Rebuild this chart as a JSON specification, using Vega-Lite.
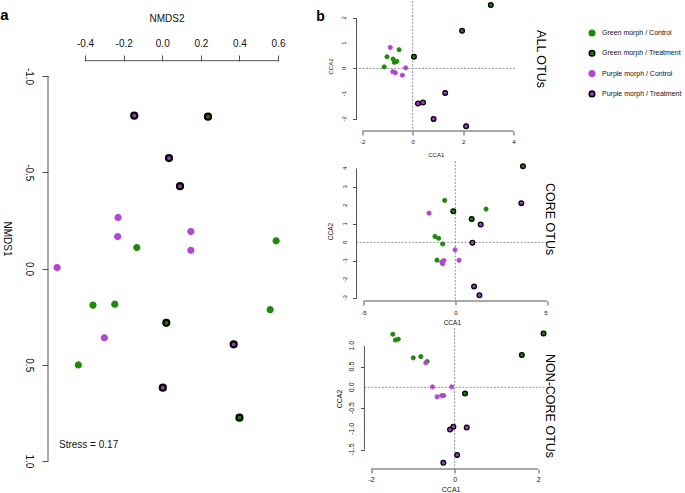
{
"$schema": "https://vega.github.io/schema/vega-lite/v6.json",
"padding": 0,
"background": "white",
"config": {
  "view": {"stroke": null},
  "font": "Liberation Sans",
  "axis": {"grid": false, "domain": false, "labelOverlap": false, "labelBound": false, "tickColor": "#555", "tickWidth": 1, "labelColor": "#111", "titleColor": "#111", "titleFontWeight": "normal", "labelFont": "Liberation Sans", "titleFont": "Liberation Sans"},
  "legend": {"orient": "none", "legendX": 540, "legendY": 28, "labelFontSize": 7, "labelFont": "Liberation Sans", "labelColor": "#111", "symbolSize": 30, "symbolStrokeWidth": 1.6, "rowPadding": 8.3, "labelOffset": 6, "symbolType": "circle", "labelLimit": 200}
},
"datasets": {
  "nmds": [
    {"x": 0.590, "y": -0.144, "g": "Green morph / Control"},
    {"x": -0.132, "y": -0.109, "g": "Green morph / Control"},
    {"x": -0.359, "y": 0.190, "g": "Green morph / Control"},
    {"x": -0.246, "y": 0.185, "g": "Green morph / Control"},
    {"x": 0.559, "y": 0.214, "g": "Green morph / Control"},
    {"x": -0.435, "y": 0.501, "g": "Green morph / Control"},
    {"x": 0.237, "y": -0.789, "g": "Green morph / Treatment"},
    {"x": 0.021, "y": 0.282, "g": "Green morph / Treatment"},
    {"x": 0.400, "y": 0.775, "g": "Green morph / Treatment"},
    {"x": -0.229, "y": -0.265, "g": "Purple morph / Control"},
    {"x": -0.231, "y": -0.166, "g": "Purple morph / Control"},
    {"x": 0.148, "y": -0.192, "g": "Purple morph / Control"},
    {"x": 0.148, "y": -0.095, "g": "Purple morph / Control"},
    {"x": -0.545, "y": -0.005, "g": "Purple morph / Control"},
    {"x": -0.300, "y": 0.360, "g": "Purple morph / Control"},
    {"x": -0.145, "y": -0.794, "g": "Purple morph / Treatment"},
    {"x": 0.035, "y": -0.574, "g": "Purple morph / Treatment"},
    {"x": 0.092, "y": -0.428, "g": "Purple morph / Treatment"},
    {"x": 0.370, "y": 0.394, "g": "Purple morph / Treatment"},
    {"x": 0.003, "y": 0.619, "g": "Purple morph / Treatment"}
  ],
  "all": [
    {"x": -0.54, "y": 0.74, "g": "Green morph / Control"},
    {"x": -1.02, "y": 0.46, "g": "Green morph / Control"},
    {"x": -0.78, "y": 0.37, "g": "Green morph / Control"},
    {"x": -0.63, "y": 0.28, "g": "Green morph / Control"},
    {"x": -0.73, "y": 0.24, "g": "Green morph / Control"},
    {"x": -1.13, "y": 0.06, "g": "Green morph / Control"},
    {"x": 3.10, "y": 2.51, "g": "Green morph / Treatment"},
    {"x": 1.96, "y": 1.49, "g": "Green morph / Treatment"},
    {"x": 0.05, "y": 0.46, "g": "Green morph / Treatment"},
    {"x": -0.89, "y": 0.83, "g": "Purple morph / Control"},
    {"x": -0.28, "y": 0.02, "g": "Purple morph / Control"},
    {"x": -0.79, "y": -0.13, "g": "Purple morph / Control"},
    {"x": -0.69, "y": -0.17, "g": "Purple morph / Control"},
    {"x": -0.41, "y": -0.27, "g": "Purple morph / Control"},
    {"x": 1.29, "y": -0.97, "g": "Purple morph / Treatment"},
    {"x": 0.41, "y": -1.35, "g": "Purple morph / Treatment"},
    {"x": 0.21, "y": -1.39, "g": "Purple morph / Treatment"},
    {"x": 0.83, "y": -2.0, "g": "Purple morph / Treatment"},
    {"x": 2.12, "y": -2.29, "g": "Purple morph / Treatment"}
  ],
  "core": [
    {"x": -0.58, "y": 2.27, "g": "Green morph / Control"},
    {"x": 1.67, "y": 1.80, "g": "Green morph / Control"},
    {"x": -1.11, "y": 0.32, "g": "Green morph / Control"},
    {"x": -0.91, "y": 0.22, "g": "Green morph / Control"},
    {"x": -0.69, "y": -0.09, "g": "Green morph / Control"},
    {"x": -1.0, "y": -0.96, "g": "Green morph / Control"},
    {"x": 3.68, "y": 4.12, "g": "Green morph / Treatment"},
    {"x": -0.11, "y": 1.68, "g": "Green morph / Treatment"},
    {"x": 0.89, "y": 1.26, "g": "Green morph / Treatment"},
    {"x": -1.43, "y": 1.58, "g": "Purple morph / Control"},
    {"x": -0.02, "y": -0.40, "g": "Purple morph / Control"},
    {"x": 0.20, "y": -0.97, "g": "Purple morph / Control"},
    {"x": -0.62, "y": -0.98, "g": "Purple morph / Control"},
    {"x": -0.74, "y": -1.06, "g": "Purple morph / Control"},
    {"x": -0.69, "y": -1.16, "g": "Purple morph / Control"},
    {"x": 3.59, "y": 2.12, "g": "Purple morph / Treatment"},
    {"x": 1.38, "y": 0.97, "g": "Purple morph / Treatment"},
    {"x": 0.93, "y": -0.02, "g": "Purple morph / Treatment"},
    {"x": 1.02, "y": -2.38, "g": "Purple morph / Treatment"},
    {"x": 1.31, "y": -2.86, "g": "Purple morph / Treatment"}
  ],
  "noncore": [
    {"x": -1.48, "y": 1.28, "g": "Green morph / Control"},
    {"x": -1.42, "y": 1.14, "g": "Green morph / Control"},
    {"x": -1.35, "y": 1.16, "g": "Green morph / Control"},
    {"x": -0.99, "y": 0.71, "g": "Green morph / Control"},
    {"x": -0.81, "y": 0.74, "g": "Green morph / Control"},
    {"x": -0.66, "y": 0.62, "g": "Green morph / Control"},
    {"x": 2.13, "y": 1.30, "g": "Green morph / Treatment"},
    {"x": 1.61, "y": 0.78, "g": "Green morph / Treatment"},
    {"x": 0.25, "y": -0.15, "g": "Green morph / Treatment"},
    {"x": -0.69, "y": 0.59, "g": "Purple morph / Control"},
    {"x": -0.53, "y": 0.01, "g": "Purple morph / Control"},
    {"x": -0.07, "y": 0.01, "g": "Purple morph / Control"},
    {"x": -0.42, "y": -0.23, "g": "Purple morph / Control"},
    {"x": -0.31, "y": -0.20, "g": "Purple morph / Control"},
    {"x": -0.26, "y": -0.20, "g": "Purple morph / Control"},
    {"x": 0.29, "y": -0.97, "g": "Purple morph / Treatment"},
    {"x": -0.03, "y": -0.95, "g": "Purple morph / Treatment"},
    {"x": -0.11, "y": -1.02, "g": "Purple morph / Treatment"},
    {"x": 0.06, "y": -1.63, "g": "Purple morph / Treatment"},
    {"x": -0.27, "y": -1.82, "g": "Purple morph / Treatment"}
  ],
  "ticksAll": [{"v": -2, "t": "-2"}, {"v": -1, "t": "-1"}, {"v": 0, "t": "0"}, {"v": 1, "t": "1"}, {"v": 2, "t": "2"}],
  "ticksCore": [{"v": -3, "t": "-3"}, {"v": -2, "t": "-2"}, {"v": -1, "t": "-1"}, {"v": 0, "t": "0"}, {"v": 1, "t": "1"}, {"v": 2, "t": "2"}, {"v": 3, "t": "3"}, {"v": 4, "t": "4"}],
  "ticksNon": [{"v": -1.5, "t": "-1.5"}, {"v": -1, "t": "-1.0"}, {"v": -0.5, "t": "-0.5"}, {"v": 0, "t": "0.0"}, {"v": 0.5, "t": "0.5"}, {"v": 1, "t": "1.0"}]
},
"hconcat": [
  {
    "width": 237, "height": 475,
    "layer": [
      {"data": {"values": [{}]}, "mark": {"type": "rule", "color": "#555", "strokeWidth": 1}, "encoding": {"x": {"datum": -0.4}, "x2": {"datum": 0.6}, "y": {"datum": -1.08}}},
      {"data": {"values": [{}]}, "mark": {"type": "rule", "color": "#555", "strokeWidth": 1}, "encoding": {"y": {"datum": -1}, "y2": {"datum": 1}, "x": {"datum": -0.592}}},
      {"data": {"name": "nmds"}, "transform": [{"filter": "indexof(datum.g, 'Control') >= 0"}],
       "mark": {"type": "circle", "size": 36, "strokeWidth": 1.2, "opacity": 1},
       "encoding": {
         "x": {"field": "x", "type": "quantitative", "scale": {"domain": [-0.592, 0.636], "nice": false, "zero": false},
               "axis": {"orient": "top", "offset": -60, "values": [-0.4, -0.2, 0, 0.2, 0.4, 0.6], "format": ".1f", "labelExpr": "replace(datum.label, '−', '-')", "labelOverlap": false, "tickSize": 6, "labelFontSize": 10, "labelPadding": 7, "title": "NMDS2", "titleFontSize": 10, "titlePadding": 15}},
         "y": {"field": "y", "type": "quantitative", "scale": {"domain": [-1.39, 1.078], "reverse": true, "nice": false, "zero": false},
               "axis": {"orient": "left", "values": [-1, -0.5, 0, 0.5, 1], "format": ".1f", "labelExpr": "replace(datum.label, '−', '-')", "labelOverlap": false, "labelAngle": 90, "tickSize": 6, "labelFontSize": 10, "labelPadding": 8.5, "title": "NMDS1", "titleAngle": 90, "titleFontSize": 10, "titlePadding": 22}},
         "fill": {"field": "g", "type": "nominal", "title": null, "scale": {"domain": ["Green morph / Control", "Green morph / Treatment", "Purple morph / Control", "Purple morph / Treatment"], "range": ["#1F8A0A", "#1B7D06", "#B347D1", "#A13AC8"]}},
         "stroke": {"field": "g", "type": "nominal", "title": null, "scale": {"domain": ["Green morph / Control", "Green morph / Treatment", "Purple morph / Control", "Purple morph / Treatment"], "range": ["#1F8A0A", "#000000", "#B347D1", "#000000"]}}
       }},
      {"data": {"name": "nmds"}, "transform": [{"filter": "indexof(datum.g, 'Treatment') >= 0"}],
       "mark": {"type": "circle", "size": 36, "strokeWidth": 2.2, "opacity": 1},
       "encoding": {
         "x": {"field": "x", "type": "quantitative"},
         "y": {"field": "y", "type": "quantitative"},
         "fill": {"field": "g", "type": "nominal", "title": null},
         "stroke": {"field": "g", "type": "nominal", "title": null}
       }},
      {"data": {"values": [{}]}, "mark": {"type": "text", "text": "Stress = 0.17", "align": "left", "baseline": "middle", "fontSize": 10, "color": "#111"}, "encoding": {"x": {"datum": -0.535}, "y": {"datum": 0.915}}},
      {"data": {"values": [{}]}, "mark": {"type": "text", "text": "a", "align": "center", "baseline": "alphabetic", "fontSize": 15, "fontWeight": "bold", "color": "#000"}, "encoding": {"x": {"datum": -0.818}, "y": {"datum": -1.291}}}
    ]
  },
  {
    "bounds": "flush",
    "spacing": 30,
    "vconcat": [
      {
        "width": 158.5, "height": 130,
        "layer": [
          {"data": {"values": [{}]}, "mark": {"type": "rule", "color": "#777", "strokeWidth": 0.8, "strokeDash": [2, 1.5]}, "encoding": {"y": {"datum": 0}}},
          {"data": {"values": [{}]}, "mark": {"type": "rule", "color": "#777", "strokeWidth": 0.8, "strokeDash": [2, 1.5]}, "encoding": {"x": {"datum": 0}}},
          {"data": {"values": [{}]}, "mark": {"type": "rule", "color": "#555", "strokeWidth": 1}, "encoding": {"x": {"datum": -2}, "x2": {"datum": 4}, "y": {"datum": -2.48}}},
          {"data": {"values": [{}]}, "mark": {"type": "rule", "color": "#555", "strokeWidth": 1}, "encoding": {"y": {"datum": -2}, "y2": {"datum": 2}, "x": {"datum": -2.23}}},
          {"data": {"name": "all"}, "transform": [{"filter": "indexof(datum.g, 'Control') >= 0"}],
           "mark": {"type": "circle", "size": 17, "strokeWidth": 1, "opacity": 1},
           "encoding": {
             "x": {"field": "x", "type": "quantitative", "scale": {"domain": [-2.23, 4.06], "nice": false, "zero": false},
                   "axis": {"values": [-2, 0, 2, 4], "format": "d", "labelExpr": "replace(datum.label, '−', '-')", "labelOverlap": false, "tickSize": 4, "labelFontSize": 6, "labelPadding": 3.3, "title": "CCA1", "titleFontSize": 6, "titlePadding": 7}},
             "y": {"field": "y", "type": "quantitative", "scale": {"domain": [-2.48, 2.67], "nice": false, "zero": false},
                   "axis": {"values": [-2, -1, 0, 1, 2], "labels": false, "tickSize": 4, "title": "CCA2", "titleFontSize": 6, "titlePadding": 18.3}},
             "fill": {"field": "g", "type": "nominal", "title": null},
             "stroke": {"field": "g", "type": "nominal", "title": null}
           }},
          {"data": {"name": "all"}, "transform": [{"filter": "indexof(datum.g, 'Treatment') >= 0"}],
           "mark": {"type": "circle", "size": 22, "strokeWidth": 1.3, "opacity": 1},
           "encoding": {
             "x": {"field": "x", "type": "quantitative"},
             "y": {"field": "y", "type": "quantitative"},
             "fill": {"field": "g", "type": "nominal", "title": null},
             "stroke": {"field": "g", "type": "nominal", "title": null}
           }},
          {"data": {"name": "ticksAll"}, "mark": {"type": "text", "angle": 270, "align": "center", "baseline": "middle", "fontSize": 6, "color": "#111"},
           "encoding": {"y": {"field": "v", "type": "quantitative"}, "x": {"datum": -2.726}, "text": {"field": "t", "type": "nominal"}}},
          {"data": {"values": [{}]}, "mark": {"type": "text", "text": "ALL OTUs", "angle": 90, "align": "center", "baseline": "middle", "fontSize": 12.5, "color": "#000"}, "encoding": {"x": {"datum": 5.1}, "y": {"datum": 0.37}}},
          {"data": {"values": [{}]}, "mark": {"type": "text", "text": "b", "align": "center", "baseline": "alphabetic", "fontSize": 14, "fontWeight": "bold", "color": "#000"}, "encoding": {"x": {"datum": -3.66}, "y": {"datum": 1.877}}}
        ]
      },
      {
        "bounds": "flush",
        "spacing": 27,
        "vconcat": [
          {
            "width": 190.7, "height": 140,
            "layer": [
              {"data": {"values": [{}]}, "mark": {"type": "rule", "color": "#777", "strokeWidth": 0.8, "strokeDash": [2, 1.5]}, "encoding": {"y": {"datum": 0}}},
              {"data": {"values": [{}]}, "mark": {"type": "rule", "color": "#777", "strokeWidth": 0.8, "strokeDash": [2, 1.5]}, "encoding": {"x": {"datum": 0}}},
              {"data": {"values": [{}]}, "mark": {"type": "rule", "color": "#555", "strokeWidth": 1}, "encoding": {"x": {"datum": -5}, "x2": {"datum": 5}, "y": {"datum": -3.17}}},
              {"data": {"values": [{}]}, "mark": {"type": "rule", "color": "#555", "strokeWidth": 1}, "encoding": {"y": {"datum": -3}, "y2": {"datum": 4}, "x": {"datum": -5.38}}},
              {"data": {"name": "core"}, "transform": [{"filter": "indexof(datum.g, 'Control') >= 0"}],
               "mark": {"type": "circle", "size": 17, "strokeWidth": 1, "opacity": 1},
               "encoding": {
                 "x": {"field": "x", "type": "quantitative", "scale": {"domain": [-5.38, 5.0], "nice": false, "zero": false},
                       "axis": {"values": [-5, 0, 5], "format": "d", "labelExpr": "replace(datum.label, '−', '-')", "labelOverlap": false, "tickSize": 4, "labelFontSize": 6, "labelPadding": 4.7, "title": "CCA1", "titleFontSize": 6.5, "titlePadding": 4}},
                 "y": {"field": "y", "type": "quantitative", "scale": {"domain": [-3.17, 4.40], "nice": false, "zero": false},
                       "axis": {"values": [-3, -2, -1, 0, 1, 2, 3, 4], "labels": false, "tickSize": 4, "title": "CCA2", "titleFontSize": 6.5, "titlePadding": 19}},
                 "fill": {"field": "g", "type": "nominal", "title": null},
                 "stroke": {"field": "g", "type": "nominal", "title": null}
               }},
              {"data": {"name": "core"}, "transform": [{"filter": "indexof(datum.g, 'Treatment') >= 0"}],
               "mark": {"type": "circle", "size": 22, "strokeWidth": 1.3, "opacity": 1},
               "encoding": {
                 "x": {"field": "x", "type": "quantitative"},
                 "y": {"field": "y", "type": "quantitative"},
                 "fill": {"field": "g", "type": "nominal", "title": null},
                 "stroke": {"field": "g", "type": "nominal", "title": null}
               }},
              {"data": {"name": "ticksCore"}, "mark": {"type": "text", "angle": 270, "align": "center", "baseline": "middle", "fontSize": 6, "color": "#111"},
               "encoding": {"y": {"field": "v", "type": "quantitative"}, "x": {"datum": -6.0}, "text": {"field": "t", "type": "nominal"}}},
              {"data": {"values": [{}]}, "mark": {"type": "text", "text": "CORE OTUs", "angle": 90, "align": "center", "baseline": "middle", "fontSize": 12.5, "color": "#000"}, "encoding": {"x": {"datum": 5.17}, "y": {"datum": 1.26}}}
            ]
          },
          {
            "width": 188.3, "height": 141,
            "layer": [
              {"data": {"values": [{}]}, "mark": {"type": "rule", "color": "#777", "strokeWidth": 0.8, "strokeDash": [2, 1.5]}, "encoding": {"y": {"datum": 0}, "x": {"datum": -2.16}, "x2": {"datum": 2.16}}},
              {"data": {"values": [{}]}, "mark": {"type": "rule", "color": "#777", "strokeWidth": 0.8, "strokeDash": [2, 1.5]}, "encoding": {"x": {"datum": 0}}},
              {"data": {"values": [{}]}, "mark": {"type": "rule", "color": "#555", "strokeWidth": 1}, "encoding": {"x": {"datum": -2}, "x2": {"datum": 2}, "y": {"datum": -1.97}}},
              {"data": {"values": [{}]}, "mark": {"type": "rule", "color": "#555", "strokeWidth": 1}, "encoding": {"y": {"datum": -1.5}, "y2": {"datum": 1}, "x": {"datum": -2.16}}},
              {"data": {"name": "noncore"}, "transform": [{"filter": "indexof(datum.g, 'Control') >= 0"}],
               "mark": {"type": "circle", "size": 17, "strokeWidth": 1, "opacity": 1},
               "encoding": {
                 "x": {"field": "x", "type": "quantitative", "scale": {"domain": [-2.35, 2.16], "nice": false, "zero": false},
                       "axis": {"values": [-2, 0, 2], "format": "d", "labelExpr": "replace(datum.label, '−', '-')", "labelOverlap": false, "tickSize": 4, "labelFontSize": 7, "labelPadding": 2, "title": "CCA1", "titleFontSize": 7, "titlePadding": 3}},
                 "y": {"field": "y", "type": "quantitative", "scale": {"domain": [-1.97, 1.43], "nice": false, "zero": false},
                       "axis": {"offset": -8, "values": [-1.5, -1, -0.5, 0, 0.5, 1], "labels": false, "tickSize": 4, "title": "CCA2", "titleFontSize": 7, "titlePadding": 18}},
                 "fill": {"field": "g", "type": "nominal", "title": null},
                 "stroke": {"field": "g", "type": "nominal", "title": null}
               }},
              {"data": {"name": "noncore"}, "transform": [{"filter": "indexof(datum.g, 'Treatment') >= 0"}],
               "mark": {"type": "circle", "size": 22, "strokeWidth": 1.3, "opacity": 1},
               "encoding": {
                 "x": {"field": "x", "type": "quantitative"},
                 "y": {"field": "y", "type": "quantitative"},
                 "fill": {"field": "g", "type": "nominal", "title": null},
                 "stroke": {"field": "g", "type": "nominal", "title": null}
               }},
              {"data": {"name": "ticksNon"}, "mark": {"type": "text", "angle": 270, "align": "center", "baseline": "middle", "fontSize": 7, "color": "#111"},
               "encoding": {"y": {"field": "v", "type": "quantitative"}, "x": {"datum": -2.453}, "text": {"field": "t", "type": "nominal"}}},
              {"data": {"values": [{}]}, "mark": {"type": "text", "text": "NON-CORE OTUs", "angle": 90, "align": "center", "baseline": "middle", "fontSize": 12.5, "color": "#000"}, "encoding": {"x": {"datum": 2.28}, "y": {"datum": -0.45}}}
            ]
          }
        ]
      }
    ]
  }
],
"spacing": 71.5,
"bounds": "flush"
}
